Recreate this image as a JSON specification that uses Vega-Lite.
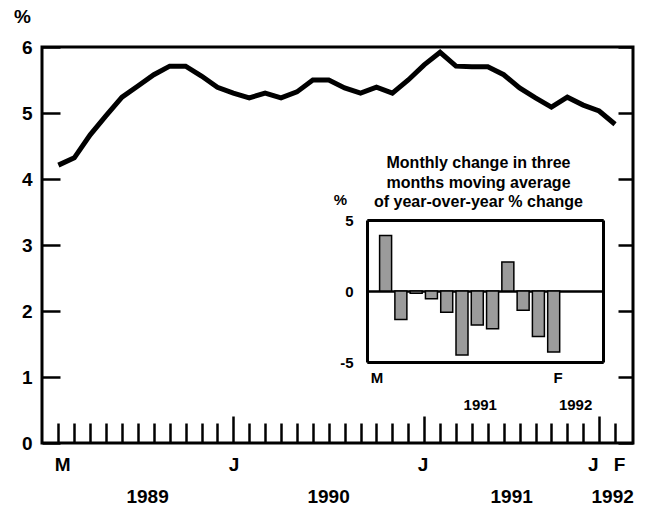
{
  "$schema": "https://vega.github.io/schema/vega-lite/v6.json",
  "width": 591,
  "height": 396,
  "autosize": {"type": "none"},
  "padding": {"left": 42, "top": 47, "right": 16, "bottom": 67},
  "background": "white",
  "datasets": {
    "main": [
      {"month": "1989-03", "i": 0, "pct": 4.21},
      {"month": "1989-04", "i": 1, "pct": 4.32},
      {"month": "1989-05", "i": 2, "pct": 4.67},
      {"month": "1989-06", "i": 3, "pct": 4.96},
      {"month": "1989-07", "i": 4, "pct": 5.24},
      {"month": "1989-08", "i": 5, "pct": 5.41},
      {"month": "1989-09", "i": 6, "pct": 5.58},
      {"month": "1989-10", "i": 7, "pct": 5.71},
      {"month": "1989-11", "i": 8, "pct": 5.71},
      {"month": "1989-12", "i": 9, "pct": 5.56},
      {"month": "1990-01", "i": 10, "pct": 5.39},
      {"month": "1990-02", "i": 11, "pct": 5.3},
      {"month": "1990-03", "i": 12, "pct": 5.23},
      {"month": "1990-04", "i": 13, "pct": 5.3},
      {"month": "1990-05", "i": 14, "pct": 5.23},
      {"month": "1990-06", "i": 15, "pct": 5.32},
      {"month": "1990-07", "i": 16, "pct": 5.5},
      {"month": "1990-08", "i": 17, "pct": 5.5},
      {"month": "1990-09", "i": 18, "pct": 5.38},
      {"month": "1990-10", "i": 19, "pct": 5.3},
      {"month": "1990-11", "i": 20, "pct": 5.39},
      {"month": "1990-12", "i": 21, "pct": 5.3},
      {"month": "1991-01", "i": 22, "pct": 5.5},
      {"month": "1991-02", "i": 23, "pct": 5.73},
      {"month": "1991-03", "i": 24, "pct": 5.92},
      {"month": "1991-04", "i": 25, "pct": 5.71},
      {"month": "1991-05", "i": 26, "pct": 5.7},
      {"month": "1991-06", "i": 27, "pct": 5.7},
      {"month": "1991-07", "i": 28, "pct": 5.58},
      {"month": "1991-08", "i": 29, "pct": 5.38},
      {"month": "1991-09", "i": 30, "pct": 5.23},
      {"month": "1991-10", "i": 31, "pct": 5.09},
      {"month": "1991-11", "i": 32, "pct": 5.24},
      {"month": "1991-12", "i": 33, "pct": 5.12},
      {"month": "1992-01", "i": 34, "pct": 5.03},
      {"month": "1992-02", "i": 35, "pct": 4.83}
    ],
    "inset": [
      {"month": "1991-03", "i": 0, "chg": 3.9},
      {"month": "1991-04", "i": 1, "chg": -2.0},
      {"month": "1991-05", "i": 2, "chg": -0.15},
      {"month": "1991-06", "i": 3, "chg": -0.55},
      {"month": "1991-07", "i": 4, "chg": -1.5},
      {"month": "1991-08", "i": 5, "chg": -4.5},
      {"month": "1991-09", "i": 6, "chg": -2.4},
      {"month": "1991-10", "i": 7, "chg": -2.65},
      {"month": "1991-11", "i": 8, "chg": 2.05},
      {"month": "1991-12", "i": 9, "chg": -1.35},
      {"month": "1992-01", "i": 10, "chg": -3.2},
      {"month": "1992-02", "i": 11, "chg": -4.3}
    ]
  },
  "layer": [
    {
      "data": {"name": "main"},
      "mark": {"type": "line", "color": "black", "strokeWidth": 5},
      "encoding": {
        "x": {
          "field": "i", "type": "quantitative",
          "scale": {"domain": [-1.03, 36.13], "nice": false, "zero": false},
          "axis": {
            "orient": "bottom",
            "title": null,
            "domain": false,
            "grid": false,
            "values": [0,1,2,3,4,5,6,7,8,9,10,11,12,13,14,15,16,17,18,19,20,21,22,23,24,25,26,27,28,29,30,31,32,33,34,35,0.23,11.02,22.9,33.6,35.26,5.58,16.96,28.47,34.82],
            "labelExpr": "datum.value == 0.23 ? 'M' : datum.value == 11.02 ? 'J' : datum.value == 22.9 ? 'J' : datum.value == 33.6 ? 'J' : datum.value == 35.26 ? 'F' : datum.value == 5.58 ? '1989' : datum.value == 16.96 ? '1990' : datum.value == 28.47 ? '1991' : datum.value == 34.82 ? '1992' : ''",
            "tickSize": {"condition": {"test": "datum.value == 11 || datum.value == 23 || datum.value == 34", "value": -27}, "value": -20},
            "tickOpacity": {"condition": {"test": "datum.value % 1 != 0", "value": 0}, "value": 1},
            "labelPadding": {"condition": {"test": "datum.value == 5.58 || datum.value == 16.96 || datum.value == 28.47 || datum.value == 34.82", "value": 64.5}, "value": 32.5},
            "tickWidth": 2.5,
            "tickColor": "black",
            "labelFontSize": 19,
            "labelFontWeight": "bold",
            "labelFlush": false,
            "labelOverlap": false,
            "labelBound": false,
            "labelAlign": "center"
          }
        },
        "y": {
          "field": "pct", "type": "quantitative",
          "scale": {"domain": [0, 6], "nice": false},
          "axis": {
            "orient": "left",
            "values": [0,1,2,3,4,5,6],
            "domain": false,
            "grid": false,
            "tickSize": -18,
            "tickWidth": 2.5,
            "tickColor": "black",
            "labelPadding": 28,
            "labelFontSize": 19,
            "labelFontWeight": "bold",
            "title": "%",
            "titleAngle": 0,
            "titleX": -20,
            "titleY": -30.5,
            "titleAlign": "center",
            "titleBaseline": "middle",
            "titleFontSize": 19,
            "titleFontWeight": "bold"
          }
        }
      }
    },
    {
      "data": {"name": "main"},
      "mark": {"type": "point", "opacity": 0},
      "encoding": {
        "x": {"field": "i", "type": "quantitative", "scale": {"domain": [-1.03, 36.13], "nice": false, "zero": false}, "axis": null},
        "y": {
          "field": "pct", "type": "quantitative",
          "scale": {"domain": [0, 6], "nice": false},
          "axis": {
            "orient": "right",
            "values": [0,1,2,3,4,5,6],
            "domain": false,
            "grid": false,
            "labels": false,
            "tickSize": -15,
            "tickWidth": 2.5,
            "tickColor": "black",
            "title": null
          }
        }
      }
    },
    {
      "data": {"name": "inset"},
      "mark": {"type": "bar", "orient": "vertical", "size": 12, "fill": "#9b9b9b", "stroke": "black", "strokeWidth": 1.5},
      "encoding": {
        "x": {
          "field": "i", "type": "quantitative",
          "scale": {"domain": [-0.89, 13.9], "range": [325, 561], "nice": false, "zero": false},
          "axis": {
            "orient": "bottom",
            "offset": -81,
            "title": null,
            "domain": true,
            "domainColor": "black",
            "domainWidth": 3,
            "grid": false,
            "ticks": false,
            "tickSize": 0,
            "values": [-0.6, 11.25, 6.16, 12.4],
            "labelExpr": "datum.value == -0.6 ? 'M' : datum.value == 11.25 ? 'F' : datum.value == 6.16 ? '1991' : '1992'",
            "labelPadding": {"condition": {"test": "datum.value == 6.16 || datum.value == 12.4", "value": 35}, "value": 8},
            "labelFontSize": 15,
            "labelFontWeight": "bold",
            "labelFlush": false,
            "labelOverlap": false,
            "labelBound": false,
            "labelAlign": "center"
          }
        },
        "y": {
          "field": "chg", "type": "quantitative",
          "scale": {"domain": [-5, 5], "range": [315, 173], "nice": false},
          "axis": {
            "orient": "left",
            "offset": -325,
            "values": [-5, 0, 5],
            "labelExpr": "datum.value == -5 ? '-5' : datum.value == 0 ? '0' : '5'",
            "domain": true,
            "domainColor": "black",
            "domainWidth": 3,
            "grid": true,
            "gridColor": "black",
            "gridWidth": 2.5,
            "gridOpacity": 1,
            "ticks": false,
            "tickSize": 0,
            "labelPadding": 14,
            "labelFontSize": 15,
            "labelFontWeight": "bold",
            "labelFlush": false,
            "labelOverlap": false,
            "labelBound": false,
            "title": "%",
            "titleAngle": 0,
            "titleX": -27,
            "titleY": 152,
            "titleAlign": "center",
            "titleBaseline": "middle",
            "titleFontSize": 15,
            "titleFontWeight": "bold"
          }
        }
      }
    },
    {
      "data": {"name": "inset"},
      "mark": {"type": "point", "opacity": 0},
      "encoding": {
        "x": {
          "field": "i", "type": "quantitative",
          "scale": {"domain": [-0.89, 13.9], "range": [325, 561], "nice": false, "zero": false},
          "axis": {
            "orient": "top",
            "offset": -173,
            "domain": true,
            "domainColor": "black",
            "domainWidth": 3,
            "grid": false,
            "ticks": false,
            "tickSize": 0,
            "labels": false,
            "title": ["Monthly change in three", "months moving average", "of year-over-year % change"],
            "titleX": 436,
            "titleY": -49.5,
            "titleAlign": "center",
            "titleBaseline": "bottom",
            "titleFontSize": 16,
            "titleLineHeight": 19.5,
            "titleFontWeight": "bold"
          }
        },
        "y": {
          "field": "chg", "type": "quantitative",
          "scale": {"domain": [-5, 5], "range": [315, 173], "nice": false},
          "axis": {
            "orient": "right",
            "offset": -30,
            "domain": true,
            "domainColor": "black",
            "domainWidth": 3,
            "grid": false,
            "ticks": false,
            "tickSize": 0,
            "labels": false,
            "title": null
          }
        }
      }
    }
  ],
  "resolve": {
    "scale": {"x": "independent", "y": "independent"},
    "axis": {"x": "independent", "y": "independent"}
  },
  "config": {
    "font": "Liberation Sans",
    "view": {"stroke": "black", "strokeWidth": 3},
    "axis": {"labelFont": "Liberation Sans", "titleFont": "Liberation Sans", "labelColor": "black", "titleColor": "black"}
  }
}
